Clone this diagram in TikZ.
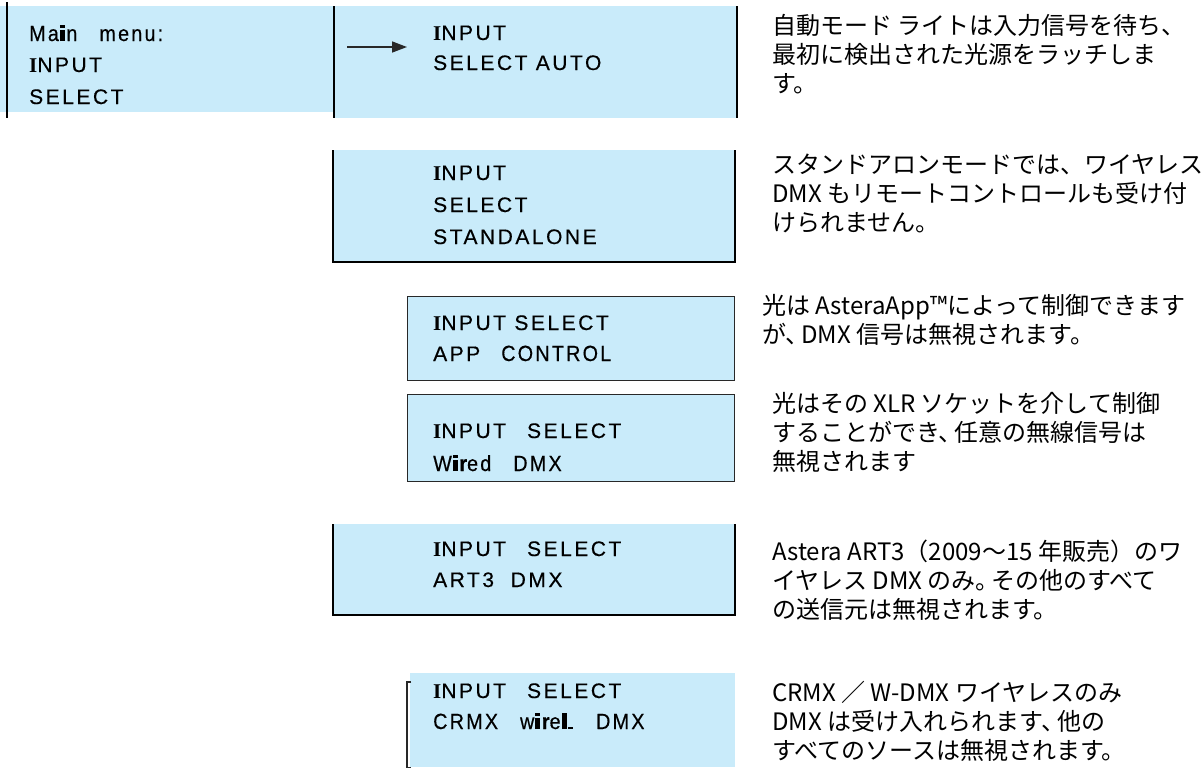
\documentclass[tikz,border=0pt]{standalone}
\usepackage{fontspec}
\setmainfont{Liberation Sans}
\newfontfamily\lcd[LetterSpace=12,FakeBold=0.4]{Liberation Sans}
\newfontfamily\lcdn[FakeStretch=0.9,LetterSpace=10,FakeBold=0.4]{Liberation Sans}
\newfontfamily\lcdserif{Liberation Serif}
\newfontfamily\jp{Noto Sans CJK JP}
\usetikzlibrary{arrows.meta}
\definecolor{lcdblue}{RGB}{201,235,250}
\definecolor{edge}{RGB}{40,40,40}
\newcommand\bigI{{\lcdserif\bfseries I}}
\newcommand\fati{\hbox{\kern1pt\vbox{\hrule width 5pt height 3pt\kern2pt\hrule width 5pt height 11pt}\kern1.5pt}}
\newcommand\fatl{\hbox{\kern1pt\vrule width 5pt height 16pt depth 0pt\kern1.5pt}}
\newcommand\fatdot{\hbox{\vrule width 5pt height 2pt depth 0pt\kern1pt}}
\newcommand\tight{\kern-0.35em}
\tikzset{
  lcdbox/.style={fill=lcdblue, draw=none, inner sep=0pt, anchor=north west},
  thickedge/.style={line width=2pt, draw=black},
  thinedge/.style={line width=1.4pt, draw=edge},
  lcdtext/.style={anchor=base west, inner sep=0pt, font=\lcd\fontsize{21}{24}\selectfont},
  lcdnarrow/.style={lcdtext, font=\lcdn\fontsize{22}{24}\selectfont},
  jptext/.style={anchor=north west, inner sep=0pt, align=left, font=\jp\fontsize{24}{29}\selectfont},
}
\begin{document}
\begin{tikzpicture}[x=1pt,y=-1pt]
\useasboundingbox (0,0) rectangle (1202,774);
% ---- box 1 and 2 (main menu, auto)
\node[lcdbox, minimum width=334pt, minimum height=106pt] (b1) at (0,6) {};
\node[lcdbox, minimum width=403pt, minimum height=112pt] (b2) at (334,6) {};
\draw[thickedge] ([shift={(7,-4)}]b1.north west) -- ([shift={(7,6)}]b1.south west);
\draw[thickedge] (b2.north west) -- (b2.south west);
\draw[thickedge] (b2.north east) -- (b2.south east);
\node[lcdnarrow] (t1a) at (29,41) {Ma\fati n\quad menu:};
\node[lcdtext] (t1b) at (29,72) {\bigI NPUT};
\node[lcdtext] (t1c) at (29,104) {SELECT};
\node[lcdtext] (t2a) at (433,40) {\bigI NPUT};
\node[lcdtext] (t2b) at (433,70) {SELECT AUTO};
\coordinate (a1) at (347,47);
\coordinate (a2) at (407,47);
\draw[line width=1.5pt, draw=edge, -{Triangle[length=15pt,width=11pt]}] (a1) -- (a2);
% ---- box 3 standalone
\node[lcdbox, minimum width=402pt, minimum height=112pt] (b3) at (333,150) {};
\draw[thickedge] (b3.north west) -- (b3.south west) -- (b3.south east) -- (b3.north east);
\node[lcdtext] (t3a) at (433,180) {\bigI NPUT};
\node[lcdtext] (t3b) at (433,212) {SELECT};
\node[lcdtext] (t3c) at (433,244) {STANDALONE};
% ---- box 4 app control
\node[lcdbox, minimum width=327pt, minimum height=84pt, thinedge] (b4) at (407,296) {};
\node[lcdtext] (t4a) at (433,330) {\bigI NPUT SELECT};
\node[lcdtext] (t4b) at (433,361) {APP\quad{\lcdn\fontsize{22}{24}\selectfont CONTROL}};
% ---- box 5 wired
\node[lcdbox, minimum width=327pt, minimum height=87pt, thinedge] (b5) at (407,394) {};
\node[lcdtext] (t5a) at (433,438) {\bigI NPUT\quad SELECT};
\node[lcdnarrow] (t5b) at (433,471) {W\fati{\bfseries r}ed\quad DMX};
% ---- box 6 art3
\node[lcdbox, minimum width=402pt, minimum height=91pt] (b6) at (333,524) {};
\draw[thickedge] (b6.north west) -- (b6.south west) -- (b6.south east) -- (b6.north east);
\node[lcdtext] (t6a) at (433,556) {\bigI NPUT\quad SELECT};
\node[lcdtext] (t6b) at (433,587) {ART3\ \ DMX};
% ---- box 7 crmx
\node[lcdbox, minimum width=325pt, minimum height=94pt] (b7) at (410,673) {};
\draw[thinedge] ([shift={(1,9)}]b7.north west) -- ([shift={(-3,9)}]b7.north west) -- ([shift={(-3,0)}]b7.south west) -- ([shift={(1,0)}]b7.south west);
\node[lcdtext] (t7a) at (433,698) {\bigI NPUT\quad SELECT};
\node[lcdnarrow] (t7b) at (433,729) {CRMX\quad w\fati{\bfseries r}e\fatl\fatdot\quad DMX};
% ---- descriptions
\node[jptext] (d1) at (772,14) {自動モード ライトは入力信号を待ち、\\最初に検出された光源をラッチしま\\す。};
\node[jptext] (d2) at (772,154) {スタンドアロンモードでは、ワイヤレス\\DMX もリモートコントロールも受け付\\けられません。};
\node[jptext] (d3) at (762,294) {光は AsteraApp™によって制御できます\\が、\tight DMX 信号は無視されます。};
\node[jptext] (d4) at (772,392) {光はその XLR ソケットを介して制御\\することができ、\tight 任意の無線信号は\\無視されます};
\node[jptext] (d5) at (772,540) {Astera ART3（2009～15 年販売）のワ\\イヤレス DMX のみ。\tight その他のすべて\\の送信元は無視されます。};
\node[jptext] (d6) at (772,681) {CRMX ／ W-DMX ワイヤレスのみ\\DMX は受け入れられます、\tight 他の\\すべてのソースは無視されます。};
\end{tikzpicture}
\end{document}
